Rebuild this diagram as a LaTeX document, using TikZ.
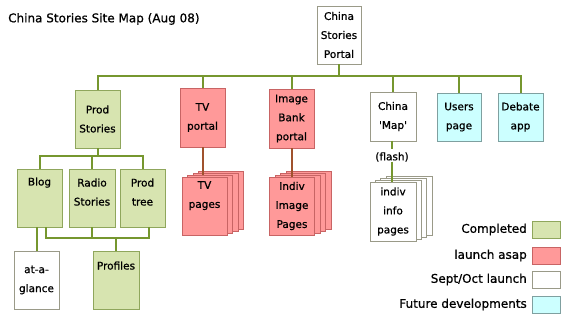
\documentclass[tikz,border=0pt]{standalone}
\usepackage{fontspec}
\setmainfont{DejaVu Sans}[FakeBold=0.8]
\usetikzlibrary{calc}
\definecolor{gfill}{HTML}{D7E4B0}
\definecolor{gdraw}{HTML}{8FA65C}
\definecolor{rfill}{HTML}{FF9999}
\definecolor{rdraw}{HTML}{C86464}
\definecolor{cfill}{HTML}{CCFFFF}
\definecolor{cdraw}{HTML}{7FA0A0}
\definecolor{wdraw}{HTML}{9A9A88}
\definecolor{gline}{HTML}{76972F}
\definecolor{bline}{HTML}{A0522D}
\newcommand{\boxfont}{\fontsize{10.5}{19}\selectfont}
\newcommand{\bigfont}{\fontsize{12}{14}\selectfont}
\begin{document}
\begin{tikzpicture}[x=1pt,y=-1pt,
  box/.style={draw, line width=0.8pt, minimum width=45pt, minimum height=58pt, inner sep=0pt, align=center, font=\boxfont},
  done/.style={box, fill=gfill, draw=gdraw},
  asap/.style={box, fill=rfill, draw=rdraw},
  sept/.style={box, fill=white, draw=wdraw},
  future/.style={box, fill=cfill, draw=cdraw},
  txt/.style={inner sep=0pt, align=center, font=\boxfont},
  legbox/.style={draw, line width=0.8pt, minimum width=28pt, minimum height=17pt, inner sep=0pt},
  legtxt/.style={anchor=east, inner sep=0pt, font=\bigfont},
  conn/.style={gline, line width=2pt},
  bconn/.style={bline, line width=2pt}]
\useasboundingbox (0,0) rectangle (566,318);
\fill[white] (0,0) rectangle (566,318);

\node[anchor=west, inner sep=0pt, font=\bigfont] (title) at (8,19) {China Stories Site Map (Aug 08)};

% top level
\node[sept, minimum width=44pt] (portal) at (339,35) {China\\Stories\\Portal};
\node[done] (prod) at (97.5,119) {Prod\\Stories};
\node[asap, minimum height=59pt] (tv) at (202.5,117.5) {TV\\portal};
\node[asap, minimum height=59pt] (img) at (291.5,118.5) {Image\\Bank\\portal};
\node[sept, minimum width=46pt, minimum height=49pt] (map) at (393,116.5) {China\\\textquotesingle Map\textquotesingle};
\node[future, minimum width=44pt, minimum height=48pt] (users) at (459,117) {Users\\page};
\node[future, minimum height=48pt] (debate) at (520.5,117) {Debate\\app};

% second level under Prod Stories
\node[done] (blog) at (39.5,198) {};
\node[done, minimum width=46pt] (radio) at (92,198) {};
\node[done] (ptree) at (142.5,198) {};
\node[txt] (blogt) at ($(blog.north)+(0,14)$) {Blog};
\node[txt] (radiot) at ($(radio.north)+(0,23.5)$) {Radio\\Stories};
\node[txt] (ptreet) at ($(ptree.north)+(0,23.5)$) {Prod\\tree};

\node[sept] (glance) at (36.5,280) {at-a-\\glance};
\node[done, minimum width=46pt] (profiles) at (116,280) {};
\node[txt] (profilest) at ($(profiles.north)+(0,15)$) {Profiles};

% TV pages stack
\node[asap] (tvp3) at (221,200) {};
\node[asap] (tvp2) at (215.5,202) {};
\node[asap] (tvp1) at (210,204) {};
\node[asap] (tvp) at (204.5,206) {};
\node[txt] (tvpt) at ($(tvp.north)+(0,19)$) {TV\\pages};

% Image pages stack
\node[asap] (imp3) at (308.5,200) {};
\node[asap] (imp2) at (303,202) {};
\node[asap] (imp1) at (297.5,204) {};
\node[asap] (imp) at (292,206) {Indiv\\Image\\Pages};

% info pages stack
\node[sept, minimum width=46pt, minimum height=59pt] (inf3) at (409,205.5) {};
\node[sept, minimum width=46pt, minimum height=59pt] (inf2) at (403.7,207.5) {};
\node[sept, minimum width=46pt, minimum height=59pt] (inf1) at (398.3,209.5) {};
\node[sept, minimum width=46pt, minimum height=59pt] (inf) at (393,211.5) {indiv\\info\\pages};

\node[txt] (flash) at (392,157) {(flash)};

% connectors
\coordinate (bus) at (0,76);
\draw[conn] (portal.south) -- (portal.south |- bus);
\draw[conn] (prod.north) -- (prod.north |- bus) -| (debate.north);
\draw[conn] (tv.north) -- (tv.north |- bus);
\draw[conn] (img.north) -- (img.north |- bus);
\draw[conn] (map.north) -- (map.north |- bus);
\draw[conn] (users.north) -- (users.north |- bus);

\coordinate (pbus) at (0,156);
\draw[conn] (prod.south) -- (prod.south |- pbus);
\draw[conn] (blog.north) -- (blog.north |- pbus) -| (ptree.north);
\draw[conn] (radio.north) -- (radio.north |- pbus);

\coordinate (fbus) at (0,238);
\coordinate (blogR) at ([xshift=6.5pt]blog.south);
\coordinate (ptreeR) at ([xshift=6.5pt]ptree.south);
\draw[conn] (blogR) -- (blogR |- fbus) -| (ptreeR);
\draw[conn] (radio.south) -- (radio.south |- fbus);
\draw[conn] (profiles.north) -- (profiles.north |- fbus);
\draw[conn] (glance.north) -- (glance.north |- blog.south);

\coordinate (tvend) at (0,175);
\coordinate (imend) at (0,177);
\draw[bconn] (tv.south) -- (tv.south |- tvend);
\draw[bconn] (img.south) -- (img.south |- imend);

\coordinate (mapend) at (392,141);
\coordinate (flashtop) at (392,149);
\draw[conn] (mapend) -- (flashtop);
\draw[conn] (flash.south) -- (flash.south |- inf.north);

% legend
\node[legbox, fill=gfill, draw=gdraw] (l1) at (546,229.5) {};
\node[legbox, fill=rfill, draw=rdraw] (l2) at (546,255.5) {};
\node[legbox, fill=white, draw=wdraw] (l3) at (546,279.5) {};
\node[legbox, fill=cfill, draw=cdraw] (l4) at (546,304.5) {};
\node[legtxt] (t1) at (527,229.5) {Completed};
\node[legtxt] (t2) at (527,255.5) {launch asap};
\node[legtxt] (t3) at (527,279.5) {Sept/Oct launch};
\node[legtxt] (t4) at (527,304.5) {Future developments};
\end{tikzpicture}
\end{document}
